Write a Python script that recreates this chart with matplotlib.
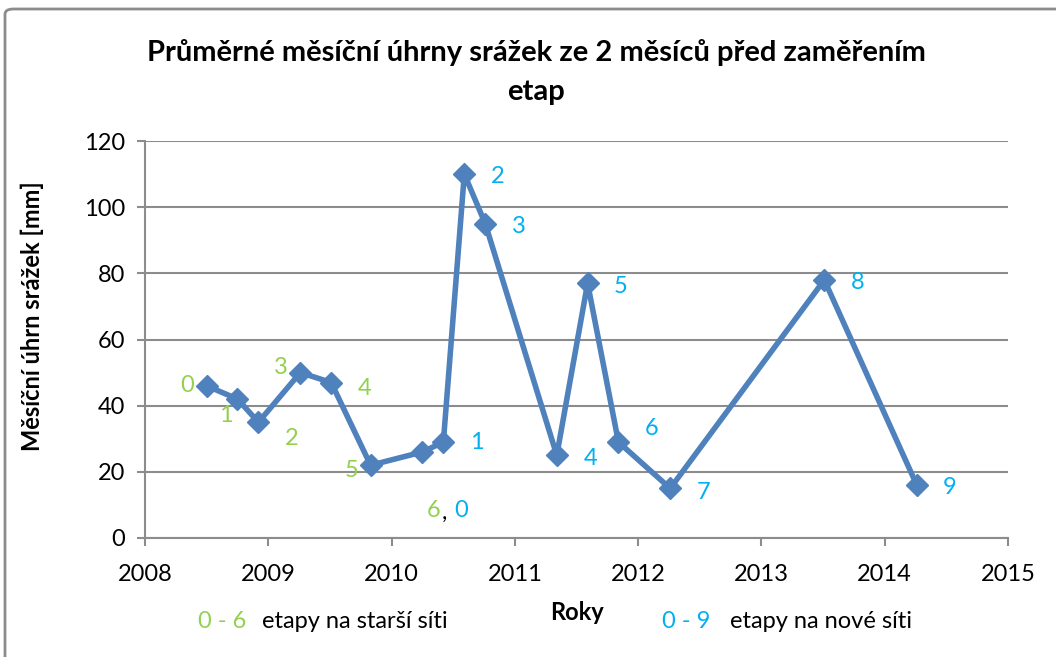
import matplotlib
matplotlib.use("Agg")
import matplotlib.pyplot as plt
from matplotlib.patches import FancyBboxPatch

plt.rcParams["font.family"] = ["Lato", "DejaVu Sans"]

# decimal year of each survey and mean monthly precipitation [mm]
years = [2008.50, 2008.75, 2008.92, 2009.26, 2009.51, 2009.83, 2010.25, 2010.42,
         2010.59, 2010.76, 2011.34, 2011.59, 2011.84, 2012.26, 2013.51, 2014.26]
precip = [46, 42, 35, 50, 47, 22, 26, 29, 110, 95, 25, 77, 29, 15, 78, 16]

# stage labels: old network (green) on the first 7 points, new network (blue) from index 7
old_idx = [0, 1, 2, 3, 4, 5, 6]
old_lab = ["0", "1", "2", "3", "4", "5", "6"]
old_off = [(-14, 0), (-8, -12), (24, -12), (-14, 4), (24, -4), (-14, -4), (8, -42)]
new_idx = [7, 8, 9, 10, 11, 12, 13, 14, 15]
new_lab = ["1", "2", "3", "4", "5", "6", "7", "8", "9"]
new_off = [(24, 0), (24, -2), (24, -2), (24, -2), (24, -2), (24, 10), (24, -3), (24, -2), (24, -2)]

GREEN = "#92D050"
BLUE = "#00B0F0"
LINE = "#4F81BD"
FS = 17

fig = plt.figure(figsize=(10.56, 6.57), dpi=100)
fig.patches.append(FancyBboxPatch((5 / 1056, -0.05), 1.1, 1.05 - 9 / 657,
                                  boxstyle="round,pad=0,rounding_size=0.008",
                                  transform=fig.transFigure, fill=False,
                                  edgecolor="#8c8c8c", linewidth=2))
ax = fig.add_axes([145 / 1056, 1 - 538 / 657, 863 / 1056, 397 / 657])

ax.plot(years, precip, color=LINE, linewidth=4, marker="D", markersize=11,
        markeredgecolor=LINE, markerfacecolor=LINE, zorder=3)

for i, lab, (dx, dy) in zip(old_idx, old_lab, old_off):
    ax.annotate(lab, (years[i], precip[i]), xytext=(dx, dy), textcoords="offset points",
                ha="center", va="center", color=GREEN, fontsize=FS)
# comma between "6" and "0"
ax.annotate(",", (years[6], precip[6]), xytext=(16, -44), textcoords="offset points",
            ha="center", va="center", color="black", fontsize=FS)
ax.annotate("0", (years[6], precip[6]), xytext=(28, -42), textcoords="offset points",
            ha="center", va="center", color=BLUE, fontsize=FS)
for i, lab, (dx, dy) in zip(new_idx, new_lab, new_off):
    ax.annotate(lab, (years[i], precip[i]), xytext=(dx, dy), textcoords="offset points",
                ha="center", va="center", color=BLUE, fontsize=FS)

ax.set_xlim(2008, 2015)
ax.set_ylim(0, 120)
ax.set_xticks(range(2008, 2016))
ax.set_yticks(range(0, 121, 20))
ax.tick_params(labelsize=FS, color="#8c8c8c", length=5.5, width=1.5)
ax.tick_params(axis="y", pad=9)
ax.tick_params(axis="x", pad=13)
ax.grid(axis="y", color="#8c8c8c", linewidth=1.5)
ax.set_axisbelow(True)
for s in ["top", "right"]:
    ax.spines[s].set_visible(False)
for s in ["left", "bottom"]:
    ax.spines[s].set_color("#8c8c8c")
    ax.spines[s].set_linewidth(1.5)

fig.text(32 / 1056, 1 - 316 / 657, "Měsíční úhrn srážek [mm]", rotation=90,
         ha="center", va="center", fontsize=FS, fontweight="bold")

fig.text(536 / 1056, 1 - 72 / 657, "Průměrné měsíční úhrny srážek ze 2 měsíců před zaměřením\netap",
         ha="center", va="center", fontsize=21, fontweight="bold", linespacing=1.6)
fig.text(577 / 1056, 1 - 613 / 657, "Roky", ha="center", va="center", fontsize=FS, fontweight="bold")
fig.text(198 / 1056, 1 - 622 / 657, "0 - 6", ha="left", va="center", fontsize=FS, color=GREEN)
fig.text(262 / 1056, 1 - 622 / 657, "etapy na starší síti", ha="left", va="center", fontsize=FS)
fig.text(662 / 1056, 1 - 622 / 657, "0 - 9", ha="left", va="center", fontsize=FS, color=BLUE)
fig.text(730 / 1056, 1 - 622 / 657, "etapy na nové síti", ha="left", va="center", fontsize=FS)

fig.savefig("out.png", dpi=100)
